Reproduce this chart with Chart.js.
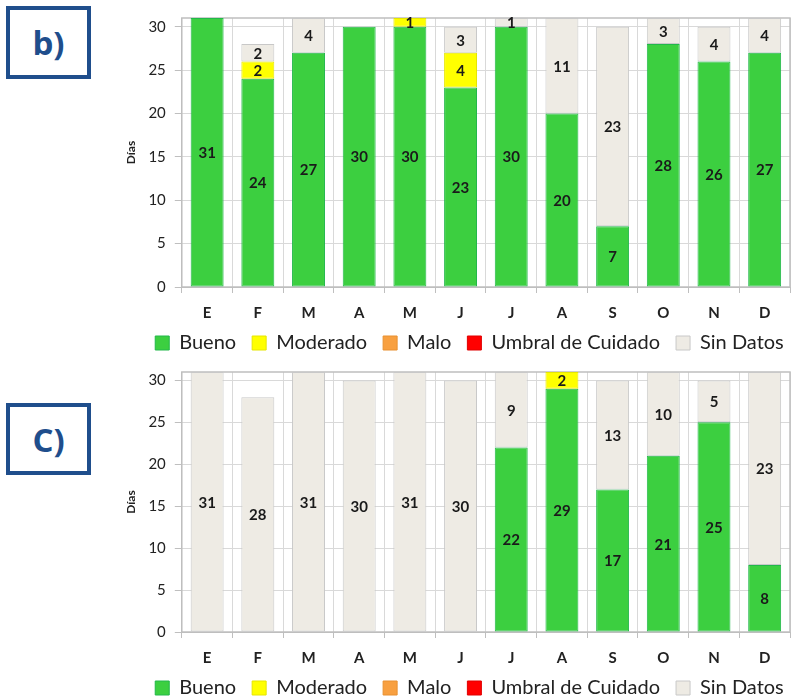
<!DOCTYPE html>
<html><head><meta charset="utf-8">
<script src="https://cdn.jsdelivr.net/npm/chart.js@4.4.1/dist/chart.umd.min.js"></script>
<style>
html,body{margin:0;padding:0;background:#fff;overflow:hidden;width:795px;height:698px;}
.wrap{position:absolute;}
.tag{position:absolute;box-sizing:border-box;border:4px solid #1F4E8C;color:#1F4E8C;font-family:"Open Sans",Lato,sans-serif;font-weight:700;font-size:33px;display:flex;align-items:center;justify-content:center;}
</style></head><body>
<div class="tag" style="left:6px;top:6px;width:85px;height:73px;">b)</div>
<div class="tag" style="left:6px;top:403px;width:85px;height:72px;">C)</div>
<div class="wrap" style="left:119px;top:0px;width:676px;height:379px;"><canvas id="c1"></canvas></div>
<div class="wrap" style="left:119px;top:354px;width:676px;height:370px;"><canvas id="c2"></canvas></div>
<script>
const months = ['E','F','M','A','M','J','J','A','S','O','N','D'];
const seriesNames = ['Bueno','Moderado','Malo','Umbral de Cuidado','Sin Datos'];
const yTicks = [0,5,10,15,20,25,30];

// Chart b)
const buenoB    = [31,24,27,30,30,23,30,20,7,28,26,27];
const moderadoB = [0,2,0,0,1,4,0,0,0,0,0,0];
const maloB     = [0,0,0,0,0,0,0,0,0,0,0,0];
const umbralB   = [0,0,0,0,0,0,0,0,0,0,0,0];
const sinDatosB = [0,2,4,0,0,3,1,11,23,3,4,4];

// Chart c)
const buenoC    = [0,0,0,0,0,0,22,29,17,21,25,8];
const moderadoC = [0,0,0,0,0,0,0,2,0,0,0,0];
const maloC     = [0,0,0,0,0,0,0,0,0,0,0,0];
const umbralC   = [0,0,0,0,0,0,0,0,0,0,0,0];
const sinDatosC = [31,28,31,30,31,30,9,0,13,10,5,23];

const fills   = ['#3CCF40','#FFFF00','#F8A040','#FF0000','#EEEBE4'];
const borders = ['#22B84A','#E6E600','#E89030','#E00000','#C8C8C8'];

const frame = {
  id:'frame',
  beforeDatasetsDraw(chart){
    const a = chart.chartArea, ctx = chart.ctx;
    ctx.save(); ctx.strokeStyle='#BFBFBF'; ctx.lineWidth=1.5;
    ctx.strokeRect(a.left, a.top, a.right-a.left, a.bottom-a.top);
    ctx.restore();
  }
};
const valueLabels = {
  id:'valueLabels',
  afterDatasetsDraw(chart){
    const ctx = chart.ctx;
    ctx.save();
    ctx.font = 'bold 15px Lato, "Open Sans", sans-serif';
    ctx.fillStyle = '#1A1A1A'; ctx.textAlign='center'; ctx.textBaseline='middle';
    chart.data.datasets.forEach((ds, di) => {
      const meta = chart.getDatasetMeta(di);
      meta.data.forEach((bar, i) => {
        const v = ds.data[i];
        if (!v) return;
        ctx.fillText(String(v), bar.x, (bar.y + bar.base) / 2 + 1);
      });
    });
    ctx.restore();
  }
};
const shiftLegend = {
  id:'shiftLegend',
  afterLayout(chart, args, opts){
    const l = chart.legend; if (!l) return;
    l.left += opts.dx; l.right += opts.dx;
    l.top += opts.dy; l.bottom += opts.dy;
  }
};

function makeChart(id, arrs, padTop){
  const datasets = seriesNames.map((n, k) => ({
    label: n, data: arrs[k], backgroundColor: fills[k], borderColor: borders[k],
    borderWidth: 1, borderSkipped: false, stack: 's',
    categoryPercentage: 1.0, barPercentage: 0.65
  }));
  return new Chart(document.getElementById(id), {
    type: 'bar',
    data: { labels: months, datasets },
    plugins: [frame, valueLabels, shiftLegend],
    options: {
      responsive: true, maintainAspectRatio: false, animation: false,
      layout: { padding: { top: padTop, right: 5, left: 0, bottom: 0 } },
      plugins: {
        tooltip: { enabled: false },
        shiftLegend: { dx: 15, dy: -16 },
        legend: {
          position: 'bottom',
          labels: {
            boxWidth: 14, boxHeight: 14, padding: 16, color: '#222',
            font: { family: 'Lato, "Open Sans", sans-serif', size: 20 }
          }
        }
      },
      scales: {
        x: {
          stacked: true,
          grid: { offset: true, color: '#D9D9D9', tickColor: '#BFBFBF', tickLength: 6, drawTicks: true },
          border: { color: '#BFBFBF' },
          ticks: { color: '#222', padding: 11, font: { family: 'Lato, "Open Sans", sans-serif', size: 15, weight: 'bold' } }
        },
        y: {
          stacked: true, min: 0, max: 31,
          afterBuildTicks(scale){ scale.ticks = yTicks.map(v => ({ value: v })); },
          grid: { color: '#D9D9D9', tickColor: '#BFBFBF', tickLength: 7 },
          border: { color: '#BFBFBF' },
          ticks: { color: '#222', padding: 9, font: { family: 'Lato, "Open Sans", sans-serif', size: 15 } },
          title: { display: true, text: 'Días', color: '#222', padding: { top: 5, bottom: 1 },
                   font: { family: 'Lato, "Open Sans", sans-serif', size: 12, weight: 'bold' } }
        }
      }
    }
  });
}
makeChart('c1', [buenoB, moderadoB, maloB, umbralB, sinDatosB], 17);
makeChart('c2', [buenoC, moderadoC, maloC, umbralC, sinDatosC], 12);
</script>
</body></html>
